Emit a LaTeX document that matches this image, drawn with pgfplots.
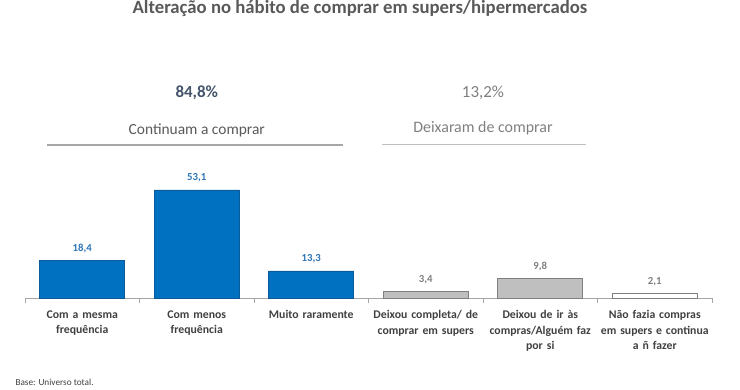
\documentclass[border=0pt]{standalone}
\usepackage{fontspec}
\setmainfont{Carlito}
\usepackage{pgfplots}
\pgfplotsset{compat=1.18}
\definecolor{bblue}{HTML}{0070C0}
\definecolor{bblueD}{HTML}{0A5A9C}
\definecolor{lblue}{HTML}{2E75B6}
\definecolor{tgray}{HTML}{595959}
\definecolor{dgray}{HTML}{404040}
\definecolor{slate}{HTML}{44546A}
\definecolor{mgray}{HTML}{7F7F7F}
\definecolor{bgray}{HTML}{BFBFBF}
\definecolor{agray}{HTML}{A6A6A6}
\begin{document}
\begin{tikzpicture}[x=1bp,y=1bp]
\useasboundingbox (0,0) rectangle (740,389);
\node[font=\fontsize{18.8}{20}\selectfont\bfseries, text=tgray] at (360,380) {Alteração no hábito de comprar em supers/hipermercados};
\node[anchor=west, font=\fontsize{9.3}{10}\selectfont, text=dgray] at (12,7) {Base: Universo total.};
\begin{axis}[
  at={(25bp,91bp)}, anchor=south west, scale only axis,
  width=687bp, height=238bp,
  xmin=-0.5, xmax=5.5, ymin=0, ymax=117,
  axis x line*=bottom, axis y line=none,
  x axis line style={agray, line width=0.8pt},
  clip=false,
  xtick={0,...,5},
  xticklabels={{Com a mesma\\frequência},{Com menos\\frequência},{Muito raramente},{Deixou completa/ de\\comprar em supers},{Deixou de ir às\\compras/Alguém faz\\por si},{Não fazia compras\\em supers e continua\\a ñ fazer}},
  major tick length=0pt,
  minor xtick={-0.5,0.5,...,5.5},
  minor tick length=5bp,
  tick align=outside,
  minor tick style={agray, line width=0.8pt},
  xticklabel style={text width=140bp, align=center, font=\fontsize{11.8}{15.5}\selectfont\bfseries, text=dgray, anchor=north, yshift=-9bp},
  ybar, bar width=85bp,
  /pgf/number format/.cd, use comma, fixed, fixed zerofill, precision=1, assume math mode=true,
]
\addplot[bar shift=0pt, fill=bblue, draw=bblueD, line width=0.6pt,
  nodes near coords, nodes near coords style={anchor=base, inner sep=0pt, yshift=9bp, font=\fontsize{10.8}{12}\selectfont\bfseries, text=lblue}]
  coordinates {(0,18.4) (1,53.1) (2,13.3)};
\addplot[bar shift=0pt, fill=bgray, draw=mgray, line width=0.6pt,
  nodes near coords, nodes near coords style={anchor=base, inner sep=0pt, yshift=9bp, font=\fontsize{10.8}{12}\selectfont\bfseries, text=mgray}]
  coordinates {(3,3.4) (4,9.8)};
\addplot[bar shift=0pt, fill=white, draw=mgray, line width=0.6pt,
  nodes near coords, nodes near coords style={anchor=base, inner sep=0pt, yshift=9bp, font=\fontsize{10.8}{12}\selectfont\bfseries, text=mgray}]
  coordinates {(5,2.1)};
\node[font=\fontsize{17}{19}\selectfont\bfseries, text=slate] at (axis cs:1,100.8) {84,8\%};
\node[font=\fontsize{15.5}{18}\selectfont, text=tgray] at (axis cs:1,82.6) {Continuam a comprar};
\draw[agray, line width=1.4pt] (axis cs:-0.306,75.2) -- (axis cs:2.28,75.2);
\node[font=\fontsize{17}{19}\selectfont, text=mgray] at (axis cs:3.5,100.8) {13,2\%};
\node[font=\fontsize{16}{18}\selectfont, text=mgray] at (axis cs:3.5,83.3) {Deixaram de comprar};
\draw[bgray, line width=0.8pt] (axis cs:2.62,75.5) -- (axis cs:4.40,75.5);
\end{axis}
\end{tikzpicture}
\end{document}
